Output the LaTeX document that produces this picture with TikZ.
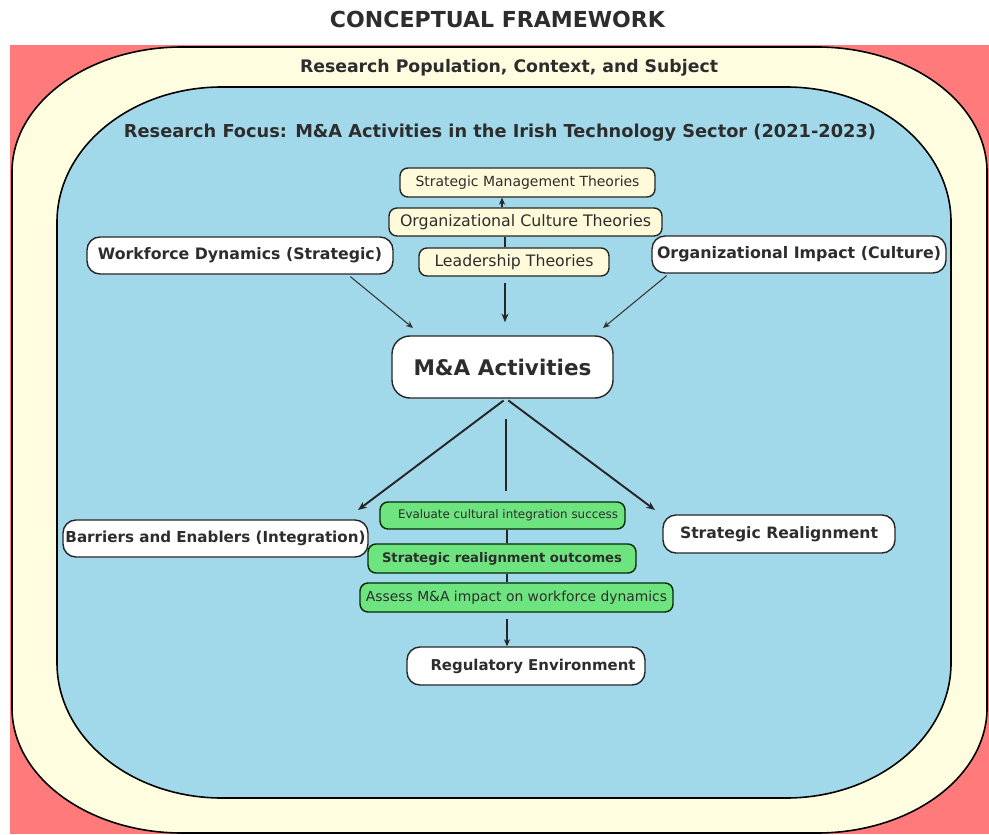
\documentclass[tikz,border=0pt]{standalone}
\usepackage{fontspec}
\setmainfont{DejaVu Sans}
\usepackage{graphicx}
\usetikzlibrary{arrows.meta}
\newlength{\pxu}\setlength{\pxu}{0.02cm}
\newcommand{\fitto}[2]{\resizebox{#1\pxu}{!}{#2}}
\definecolor{bgred}{RGB}{255,122,122}
\definecolor{outercream}{RGB}{255,253,224}
\definecolor{innerblue}{RGB}{162,217,234}
\definecolor{theorycream}{RGB}{255,251,218}
\definecolor{boxgreen}{RGB}{110,228,128}
\definecolor{txt}{RGB}{45,45,45}
\tikzset{
  frame/.style={draw=black, line width=0.9pt},
  hdr/.style={inner sep=0pt, text=txt},
  thbox/.style={draw=black!85, line width=0.8pt, fill=theorycream, rounded corners=8\pxu, inner sep=0pt, text=txt},
  wbox/.style={draw=black!85, line width=0.8pt, fill=white, rounded corners=13\pxu, inner sep=0pt, text=txt},
  gbox/.style={draw=black!60!green!40!black, line width=0.8pt, fill=boxgreen, rounded corners=8\pxu, inner sep=0pt, text=txt},
  ln/.style={draw=black!85, line width=1.1pt},
  thinln/.style={draw=black!80, line width=0.6pt},
  tip/.style={-{Stealth[length=5pt,width=4pt]}},
  smalltip/.style={-{Stealth[length=4pt,width=3.5pt]}}
}
\begin{document}
\begin{tikzpicture}[x=0.02cm,y=-0.02cm]
\useasboundingbox (0,0) rectangle (989,834);
\fill[white] (0,0) rectangle (989,834);
\fill[bgred] (10,45) rectangle (989,834);
% outer cream frame
\draw[frame, fill=outercream] (182,47) -- (817,47) .. controls (910.8,47) and (987,103) .. (987,172) -- (987,708) .. controls (987,777) and (910.8,833) .. (817,833) -- (182,833) .. controls (88.2,833) and (12,777) .. (12,708) -- (12,172) .. controls (12,103) and (88.2,47) .. cycle;
% inner blue frame
\draw[frame, fill=innerblue] (222,87) -- (786,87) .. controls (877.1,87) and (951,147.5) .. (951,222) -- (951,663) .. controls (951,737.5) and (877.1,798) .. (786,798) -- (222,798) .. controls (130.9,798) and (57,737.5) .. (57,663) -- (57,222) .. controls (57,147.5) and (130.9,87) .. cycle;

% headings
\node[hdr] (title) at (497.5,19) {\fitto{335}{\bfseries CONCEPTUAL FRAMEWORK}};
\node[hdr] (pop) at (509,68) {\fitto{418}{\bfseries Research Population, Context, and Subject}};
\node[hdr] (focus) at (500,133) {\fitto{752}{\bfseries Research Focus: M\&A Activities in the Irish Technology Sector (2021-2023)}};

% theory boxes
\node[thbox, minimum width=255\pxu, minimum height=29\pxu] (smt) at (527.5,182.5) {\fitto{224}{Strategic Management Theories}};
\node[thbox, minimum width=273\pxu, minimum height=28\pxu] (oct) at (525.5,222) {\fitto{251}{Organizational Culture Theories}};
\node[thbox, minimum width=190\pxu, minimum height=28\pxu] (lt) at (514,262) {\fitto{159}{Leadership Theories}};

% side boxes
\node[wbox, minimum width=306\pxu, minimum height=37\pxu] (wd) at (240,255.5) {\fitto{284}{\bfseries Workforce Dynamics (Strategic)}};
\node[wbox, minimum width=294\pxu, minimum height=37\pxu] (oi) at (799,254.5) {\fitto{284}{\bfseries Organizational Impact (Culture)}};

% central box
\node[wbox, rounded corners=18\pxu, minimum width=221\pxu, minimum height=62\pxu] (ma) at (502.5,367) {\fitto{178}{\bfseries M\&A Activities}};

% outcome boxes
\node[wbox, minimum width=305\pxu, minimum height=37\pxu] (be) at (215.5,538.5) {\fitto{300}{\bfseries Barriers and Enablers (Integration)}};
\node[wbox, minimum width=232\pxu, minimum height=38\pxu] (sr) at (779,534) {\fitto{198}{\bfseries Strategic Realignment}};

% green boxes
\node[gbox, minimum width=245\pxu, minimum height=27\pxu] (ev) at (502.5,515.5) {\hspace*{11\pxu}\fitto{220}{Evaluate cultural integration success}};
\node[gbox, minimum width=268\pxu, minimum height=29\pxu] (sro) at (502,558.5) {\fitto{240}{\bfseries Strategic realignment outcomes}};
\node[gbox, minimum width=313\pxu, minimum height=29\pxu] (as) at (516.5,597.5) {\fitto{301}{Assess M\&A impact on workforce dynamics}};

% regulatory
\node[wbox, minimum width=238\pxu, minimum height=38\pxu] (reg) at (526,666) {\hspace*{14\pxu}\fitto{205}{\bfseries Regulatory Environment}};

% free arrow tips
\coordinate (wdTip) at (413,328);
\coordinate (oiTip) at (603,328);
\coordinate (beTip) at (358,510);
\coordinate (srTip) at (655,510);

% connectors
\draw[ln, smalltip] (502,0 |- oct.north) -- (502,0 |- smt.south);
\draw[ln] (505,0 |- oct.south) -- (505,0 |- lt.north);
\draw[ln, tip, shorten <=6\pxu, shorten >=13\pxu] (505,0 |- lt.south) -- (505,0 |- ma.north);
\draw[thinln, smalltip, shorten <=3\pxu] (348,0 |- wd.south) -- (wdTip);
\draw[thinln, smalltip, shorten <=3\pxu] (669,0 |- oi.south) -- (oiTip);
\draw[ln, tip, shorten <=3\pxu] (506,0 |- ma.south) -- (beTip);
\draw[ln, tip, shorten <=3\pxu] (506,0 |- ma.south) -- (srTip);
\draw[ln, shorten <=20\pxu, shorten >=10\pxu] (506,0 |- ma.south) -- (506,0 |- ev.north);
\draw[ln] (507,0 |- ev.south) -- (507,0 |- sro.north);
\draw[ln] (507,0 |- sro.south) -- (507,0 |- as.north);
\draw[ln, smalltip, shorten <=6\pxu] (507,0 |- as.south) -- (507,0 |- reg.north);
\end{tikzpicture}
\end{document}
